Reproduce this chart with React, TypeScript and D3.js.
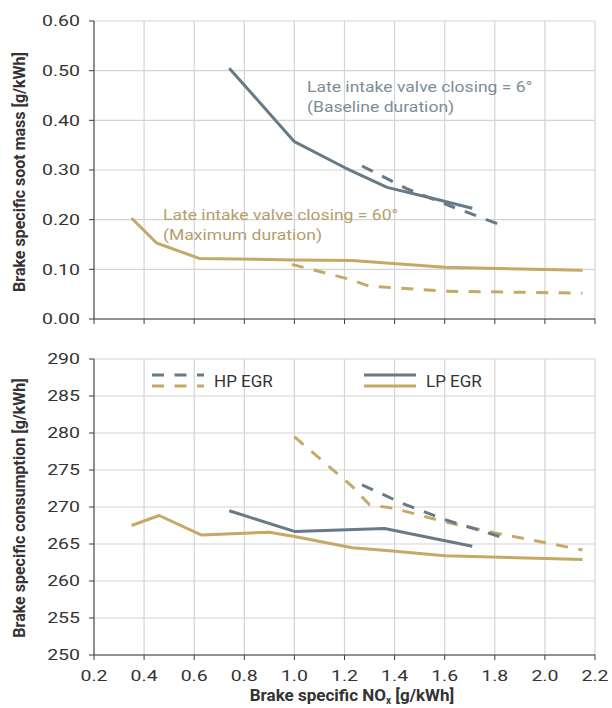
import React from "react";
import * as d3 from "d3";

// NOx on the shared x axis [g/kWh]
const xTicks = [0.2, 0.4, 0.6, 0.8, 1.0, 1.2, 1.4, 1.6, 1.8, 2.0, 2.2];
const sootTicks = [0, 0.1, 0.2, 0.3, 0.4, 0.5, 0.6];
const bsfcTicks = [250, 255, 260, 265, 270, 275, 280, 285, 290];

// Soot mass [g/kWh] vs NOx
const sootLpBaseline: [number, number][] = [
  [0.74, 0.505], [1.0, 0.357], [1.2, 0.305], [1.37, 0.265], [1.55, 0.243], [1.71, 0.223],
];
const sootHpBaseline: [number, number][] = [
  [1.27, 0.308], [1.45, 0.262], [1.62, 0.228], [1.82, 0.19],
];
const sootLpMax: [number, number][] = [
  [0.35, 0.203], [0.45, 0.153], [0.62, 0.122], [1.0, 0.119], [1.23, 0.118], [1.6, 0.104], [2.15, 0.098],
];
const sootHpMax: [number, number][] = [
  [0.99, 0.11], [1.22, 0.08], [1.3, 0.066], [1.6, 0.056], [2.15, 0.052],
];

// Fuel consumption [g/kWh] vs NOx
const bsfcLpBaseline: [number, number][] = [
  [0.74, 269.5], [1.0, 266.7], [1.36, 267.1], [1.71, 264.7],
];
const bsfcHpBaseline: [number, number][] = [
  [1.27, 273.0], [1.43, 270.5], [1.6, 268.3], [1.82, 266.0],
];
const bsfcLpMax: [number, number][] = [
  [0.35, 267.5], [0.46, 268.85], [0.63, 266.2], [0.9, 266.6], [1.0, 266.0],
  [1.23, 264.5], [1.38, 264.1], [1.6, 263.4], [2.15, 262.9],
];
const bsfcHpMax: [number, number][] = [
  [1.0, 279.5], [1.23, 272.8], [1.3, 270.3], [1.4, 269.8], [1.6, 268.0], [1.8, 266.5], [2.15, 264.2],
];

const W = 612;
const H = 708;
const LEFT = 94;
const RIGHT = 595;
const TOP1 = 21;
const BOT1 = 319;
const TOP2 = 359;
const BOT2 = 655;

const GRAY = "#667a87";
const GOLD = "#c6a867";
const GRID = "#d4d4d4";
const AXIS = "#3a3a3a";
const TEXT = "#333333";
const FONT = "Roboto, sans-serif";
const DASH = "12,10.5";

const x = d3.scaleLinear().domain([0.2, 2.2]).range([LEFT, RIGHT]);
const ySoot = d3.scaleLinear().domain([0, 0.6]).range([BOT1, TOP1]);
const yBsfc = d3.scaleLinear().domain([250, 290]).range([BOT2, TOP2]);

// Text drawn with a horizontal stretch (wide typeface look)
function WideText({
  x: tx, y: ty, sx = 1, anchor = "start", size, fill = TEXT, weight, dy, children,
}: {
  x: number; y: number; sx?: number; anchor?: "start" | "middle" | "end";
  size: number; fill?: string; weight?: string; dy?: string; children: React.ReactNode;
}) {
  return (
    <text
      transform={`translate(${tx},${ty}) scale(${sx},1)`}
      textAnchor={anchor}
      fontSize={size}
      fill={fill}
      fontWeight={weight}
      fontFamily={FONT}
      dy={dy}
    >
      {children}
    </text>
  );
}

function Panel({
  y, ticks, fmt, top, bottom, showXLabels,
}: {
  y: d3.ScaleLinear<number, number>;
  ticks: number[];
  fmt: (v: number) => string;
  top: number;
  bottom: number;
  showXLabels: boolean;
}) {
  return (
    <g>
      {xTicks.map((t) => (
        <line key={"vx" + t} x1={x(t)} x2={x(t)} y1={top} y2={bottom} stroke={GRID} strokeWidth={1.2} />
      ))}
      {ticks.map((t) => (
        <line key={"hy" + t} x1={LEFT} x2={RIGHT} y1={y(t)} y2={y(t)} stroke={GRID} strokeWidth={1.2} />
      ))}
      <line x1={LEFT} x2={LEFT} y1={top} y2={bottom} stroke={AXIS} strokeWidth={1} />
      <line x1={LEFT} x2={RIGHT} y1={bottom} y2={bottom} stroke={AXIS} strokeWidth={1} />
      {ticks.map((t) => (
        <g key={"ty" + t}>
          <line x1={LEFT - 5} x2={LEFT} y1={y(t)} y2={y(t)} stroke={AXIS} strokeWidth={1} />
          <WideText x={LEFT - 14} y={y(t)} dy="0.36em" anchor="end" size={15} sx={1.3}>
            {fmt(t)}
          </WideText>
        </g>
      ))}
      {xTicks.map((t) => (
        <g key={"tx" + t}>
          <line x1={x(t)} x2={x(t)} y1={bottom} y2={bottom + 5} stroke={AXIS} strokeWidth={1} />
          {showXLabels && (
            <WideText x={x(t)} y={bottom + 26} anchor="middle" size={15} sx={1.3}>
              {t.toFixed(1)}
            </WideText>
          )}
        </g>
      ))}
    </g>
  );
}

function Series({
  data, y, color, dashed,
}: {
  data: [number, number][];
  y: d3.ScaleLinear<number, number>;
  color: string;
  dashed: boolean;
}) {
  const line = d3.line<[number, number]>().x((d) => x(d[0])).y((d) => y(d[1]));
  return (
    <path
      d={line(data) ?? ""}
      fill="none"
      stroke={color}
      strokeWidth={3}
      strokeDasharray={dashed ? DASH : undefined}
      strokeLinejoin="round"
    />
  );
}

export default function App() {
  return (
    <svg width={W} height={H} style={{ position: "absolute", left: 0, top: 0, background: "#fff" }}>
      <Panel y={ySoot} ticks={sootTicks} fmt={(v) => v.toFixed(2)} top={TOP1} bottom={BOT1} showXLabels={false} />
      <Panel y={yBsfc} ticks={bsfcTicks} fmt={(v) => String(v)} top={TOP2} bottom={BOT2} showXLabels={true} />

      <Series data={sootLpMax} y={ySoot} color={GOLD} dashed={false} />
      <Series data={sootHpMax} y={ySoot} color={GOLD} dashed={true} />
      <Series data={sootLpBaseline} y={ySoot} color={GRAY} dashed={false} />
      <Series data={sootHpBaseline} y={ySoot} color={GRAY} dashed={true} />

      <Series data={bsfcLpMax} y={yBsfc} color={GOLD} dashed={false} />
      <Series data={bsfcHpMax} y={yBsfc} color={GOLD} dashed={true} />
      <Series data={bsfcLpBaseline} y={yBsfc} color={GRAY} dashed={false} />
      <Series data={bsfcHpBaseline} y={yBsfc} color={GRAY} dashed={true} />

      {/* curve annotations */}
      <WideText x={307} y={92} size={15} sx={1.17} fill="#7c8d97">Late intake valve closing = 6°</WideText>
      <WideText x={307} y={112} size={15} sx={1.17} fill="#7c8d97">(Baseline duration)</WideText>
      <WideText x={163} y={220} size={15} sx={1.17} fill="#b39e6d">Late intake valve closing = 60°</WideText>
      <WideText x={163} y={240} size={15} sx={1.17} fill="#b39e6d">(Maximum duration)</WideText>

      {/* legend */}
      <line x1={152} x2={204} y1={375} y2={375} stroke={GRAY} strokeWidth={3} strokeDasharray={DASH} />
      <line x1={152} x2={204} y1={386} y2={386} stroke={GOLD} strokeWidth={3} strokeDasharray={DASH} />
      <WideText x={214} y={380.5} dy="0.36em" size={17}>HP EGR</WideText>
      <line x1={364} x2={416} y1={375} y2={375} stroke={GRAY} strokeWidth={3} />
      <line x1={364} x2={416} y1={386} y2={386} stroke={GOLD} strokeWidth={3} />
      <WideText x={426} y={380.5} dy="0.36em" size={17}>LP EGR</WideText>

      {/* axis titles */}
      <text
        transform={`translate(25,${(TOP1 + BOT1) / 2 + 2}) rotate(-90)`}
        textAnchor="middle" fontSize={16} fontWeight="bold" fill={TEXT} fontFamily={FONT}
      >
        Brake specific soot mass [g/kWh]
      </text>
      <text
        transform={`translate(25,${(TOP2 + BOT2) / 2 + 1}) rotate(-90)`}
        textAnchor="middle" fontSize={16} fontWeight="bold" fill={TEXT} fontFamily={FONT}
      >
        Brake specific consumption [g/kWh]
      </text>
      <text x={352} y={701} textAnchor="middle" fontSize={17} fontWeight="bold" fill={TEXT} fontFamily={FONT}>
        Brake specific NO<tspan dy={3} fontSize={10}>x</tspan><tspan dy={-3}> [g/kWh]</tspan>
      </text>
    </svg>
  );
}
